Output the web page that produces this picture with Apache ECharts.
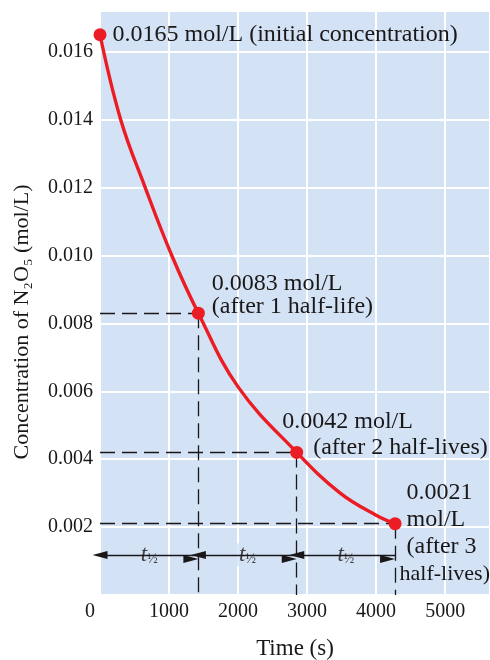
<!DOCTYPE html>
<html>
<head>
<meta charset="utf-8">
<script src="https://cdn.jsdelivr.net/npm/echarts@6/dist/echarts.min.js"></script>
<style>
  html, body { margin: 0; padding: 0; background: #ffffff; }
  #chart { width: 490px; height: 660px; }
</style>
</head>
<body>
<div id="chart"></div>
<script>
// Decay of N2O5: concentration (mol/L) against time (s)
const curveTime = [0, 300, 655, 1040, 1425, 2000, 2850, 3480, 4000, 4275];
const curveConc = [0.0165, 0.0140, 0.0120, 0.0100, 0.0083, 0.00613, 0.0042, 0.0030, 0.00235, 0.0021];

// Highlighted points: start and after each half-life
const markTime = [0, 1425, 2850, 4275];
const markConc = [0.0165, 0.0083, 0.0042, 0.0021];
const markText = [
  '0.0165 mol/L (initial concentration)',
  '0.0083 mol/L\n(after 1 half-life)',
  '{a|0.0042 mol/L}\n{b|(after 2 half-lives)}',
  '{a|0.0021}\n{a|mol/L}\n{a|(after 3}\n{b|half-lives)}'
];

const timeTicks = [0, 1000, 2000, 3000, 4000, 5000];
const concTicks = ['0.002', '0.004', '0.006', '0.008', '0.010', '0.012', '0.014', '0.016'];

const FONT = '"Liberation Serif", "Times New Roman", serif';
const INK = '#1a1718';
const RED = '#ec1c24';
const PLOT_BG = '#d3e2f4';
const ARROW_LEVEL = 0.00118;

const chart = echarts.init(document.getElementById('chart'), null, { renderer: 'canvas' });

const curveData = curveTime.map((t, i) => [t, curveConc[i]]);

// per-point label placement
const labelCfg = [
  { position: 'right', distance: 6, offset: [0, 0] },
  { position: 'right', distance: 7, offset: [0, -18], lineHeight: 23 },
  { position: 'right', distance: 0, offset: [-21, -18], lineHeight: 26 },
  { position: 'right', distance: 0, offset: [-3, 10], lineHeight: 27 }
];

const pointData = markTime.map((t, i) => ({
  value: [t, markConc[i]],
  label: Object.assign({
    show: true,
    formatter: markText[i],
    color: INK,
    fontFamily: FONT,
    fontSize: 24,
    align: 'left',
    rich: {
      a: { fontFamily: FONT, fontSize: 24, color: INK, lineHeight: i === 2 ? 26 : 27,
           padding: i === 2 ? [0, 0, 0, 0] : [0, 0, 0, 8] },
      b: { fontFamily: FONT, fontSize: i === 3 ? 22 : 24, color: INK, lineHeight: i === 2 ? 26 : 27,
           padding: i === 2 ? [0, 0, 0, 31] : [0, 0, 0, 1] }
    }
  }, labelCfg[i])
}));

// dashed guides from each half-life point to both axes
const dash = { color: INK, width: 1.3, type: [15, 7] };
const guides = [];
for (let i = 1; i < markTime.length; i++) {
  guides.push([{ coord: [0, markConc[i]] }, { coord: [markTime[i], markConc[i]] }]);
  guides.push([{ coord: [markTime[i], markConc[i]] }, { coord: [markTime[i], 0] }]);
}

// double-headed arrows spanning each half-life
const spans = [];
const spanMid = [];
for (let i = 0; i < markTime.length - 1; i++) {
  spans.push([{ coord: [markTime[i], ARROW_LEVEL] }, { coord: [markTime[i + 1], ARROW_LEVEL] }]);
  spanMid.push([(markTime[i] + markTime[i + 1]) / 2, ARROW_LEVEL]);
}

chart.setOption({
  animation: false,
  backgroundColor: '#ffffff',
  grid: {
    left: 100, right: 0, top: 11, bottom: 65,
    outerBoundsMode: 'none',
    containLabel: false,
    show: true, backgroundColor: PLOT_BG, borderWidth: 0
  },
  xAxis: {
    type: 'value',
    min: 0, max: 5650, interval: 1000,
    axisLine: { show: false },
    axisTick: { show: false },
    splitLine: { show: true, lineStyle: { color: '#ffffff', width: 2 } },
    axisLabel: {
      color: INK, fontFamily: FONT, fontSize: 20, margin: 7,
      showMaxLabel: false,
      formatter: v => (v === 0 ? '{z|' + timeTicks[0] + '}' : String(timeTicks[Math.round(v / 1000)])),
      rich: { z: { color: INK, fontFamily: FONT, fontSize: 20, padding: [0, 20, 0, 0] } }
    },
    name: 'Time (s)',
    nameLocation: 'middle',
    nameGap: 42,
    nameTextStyle: { color: INK, fontFamily: FONT, fontSize: 23 }
  },
  yAxis: {
    type: 'value',
    min: 0, max: 0.0172, interval: 0.002,
    axisLine: { show: false },
    axisTick: { show: false },
    splitLine: { show: true, lineStyle: { color: '#ffffff', width: 2 } },
    axisLabel: {
      color: INK, fontFamily: FONT, fontSize: 20, margin: 7,
      showMinLabel: false, showMaxLabel: false,
      formatter: v => {
        const k = Math.round(v / 0.002);
        return k >= 1 && k <= concTicks.length ? concTicks[k - 1] : '';
      }
    },
    name: 'Concentration of N\u2082O\u2085 (mol/L)',
    nameLocation: 'middle',
    nameRotate: 90,
    nameGap: 67,
    nameTextStyle: { color: INK, fontFamily: FONT, fontSize: 22, padding: [0, 38, 0, 0] }
  },
  series: [
    {
      type: 'line',
      data: curveData,
      smooth: 0.4,
      showSymbol: false,
      lineStyle: { color: RED, width: 3.4 },
      z: 3,
      markLine: {
        silent: true,
        symbol: ['none', 'none'],
        label: { show: false },
        lineStyle: dash,
        data: guides,
        z: 2
      }
    },
    {
      type: 'line',
      data: [],
      z: 2,
      markLine: {
        silent: true,
        symbol: ['triangle', 'triangle'],
        symbolSize: [8, 15],
        symbolOffset: [0, '50%'],
        label: { show: false },
        lineStyle: { color: INK, width: 1.3, type: 'solid' },
        data: spans
      }
    },
    {
      type: 'scatter',
      data: spanMid,
      symbolSize: 1,
      itemStyle: { color: 'rgba(0,0,0,0)' },
      z: 4,
      label: {
        show: true,
        position: 'inside',
        formatter: '{t|t}{h|\u00BD}',
        color: INK,
        fontFamily: FONT,
        fontSize: 22,
        backgroundColor: PLOT_BG,
        padding: [0, 5],
        rich: {
          t: { fontFamily: FONT, fontStyle: 'italic', fontSize: 23, color: INK },
          h: { fontFamily: FONT, fontSize: 14, color: INK, padding: [9, 0, 0, 0] }
        }
      }
    },
    {
      type: 'scatter',
      data: pointData,
      symbol: 'circle',
      symbolSize: 13,
      itemStyle: { color: RED, opacity: 1 },
      z: 5
    }
  ]
});
</script>
</body>
</html>
